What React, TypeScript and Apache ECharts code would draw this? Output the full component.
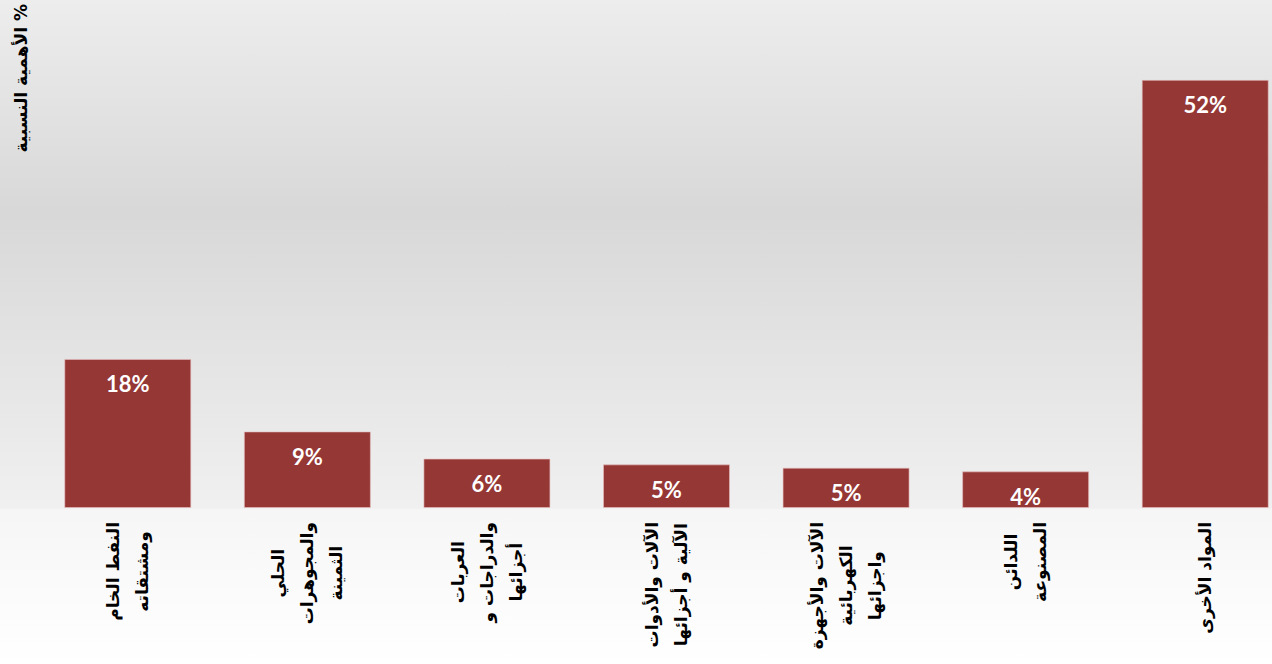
import React, { useEffect, useRef } from "react";
import * as echarts from "echarts";

const categories: string[] = [
  "النفط الخام\nومشتقاته",
  "الحلي\nوالمجوهرات\nالثمينة",
  "العربات\nوالدراجات و\nأجزائها",
  "الآلات والأدوات\nالآلية و أجزائها",
  "الآلات والأجهزة\nالكهربائية\nواجزائها",
  "اللدائن\nالمصنوعة",
  "المواد الأخرى",
];

const shares: number[] = [18.1, 9.3, 6.0, 5.3, 4.9, 4.45, 52.0];

const yTitle = "الأهمية النسبية %";

const ARABIC_FONT = "'DejaVu Sans', sans-serif";

export default function App() {
  const ref = useRef<HTMLDivElement>(null);

  useEffect(() => {
    if (!ref.current) return;
    const chart = echarts.init(ref.current, undefined, { renderer: "svg" });
    chart.setOption({
      animation: false,
      backgroundColor: {
        type: "linear",
        x: 0,
        y: 0,
        x2: 0,
        y2: 1,
        colorStops: [
          { offset: 0, color: "#ededed" },
          { offset: 0.32, color: "#d8d8d8" },
          { offset: 0.765, color: "#f0f0f0" },
          { offset: 0.768, color: "#f6f6f6" },
          { offset: 1, color: "#ffffff" },
        ],
      },
      graphic: [
        {
          type: "text",
          x: 21,
          y: 4,
          rotation: Math.PI / 2,
          style: {
            text: yTitle,
            align: "right",
            verticalAlign: "middle",
            fontFamily: ARABIC_FONT,
            fontWeight: "bold",
            fontSize: 17,
            fill: "#000",
          },
        },
      ],
      grid: { left: 38, top: 14, right: 5, bottom: 156, containLabel: false },
      xAxis: {
        type: "category",
        data: categories,
        axisLine: { show: false },
        axisTick: { show: false },
        axisLabel: {
          interval: 0,
          rotate: 90,
          margin: 14,
          formatter: (v: string) =>
            v
              .split("\n")
              .map((l) => `{a|${l}}`)
              .join("\n"),
          rich: {
            a: {
              align: "center",
              fontFamily: ARABIC_FONT,
              fontWeight: "bold",
              fontSize: 17,
              lineHeight: 29,
              color: "#000",
            },
          },
        },
      },
      yAxis: { type: "value", min: 0, max: 60, show: false },
      series: [
        {
          type: "bar",
          data: shares,
          barWidth: 127,
          itemStyle: {
            color: "#953735",
            borderColor: "rgba(230,190,190,0.6)",
            borderWidth: 1,
          },
          label: {
            show: true,
            position: "insideTop",
            distance: 14,
            color: "#fff",
            fontFamily: "Lato, 'Open Sans', sans-serif",
            fontWeight: "bold",
            fontSize: 22,
            formatter: (p: any) => `${Math.round(p.value)}%`,
          },
        },
      ],
    });
    return () => chart.dispose();
  }, []);

  return (
    <div
      style={{
        position: "absolute",
        left: 0,
        top: 0,
        width: 1272,
        height: 664,
        overflow: "hidden",
      }}
    >
      <div ref={ref} style={{ width: 1300, height: 664 }} />
    </div>
  );
}
